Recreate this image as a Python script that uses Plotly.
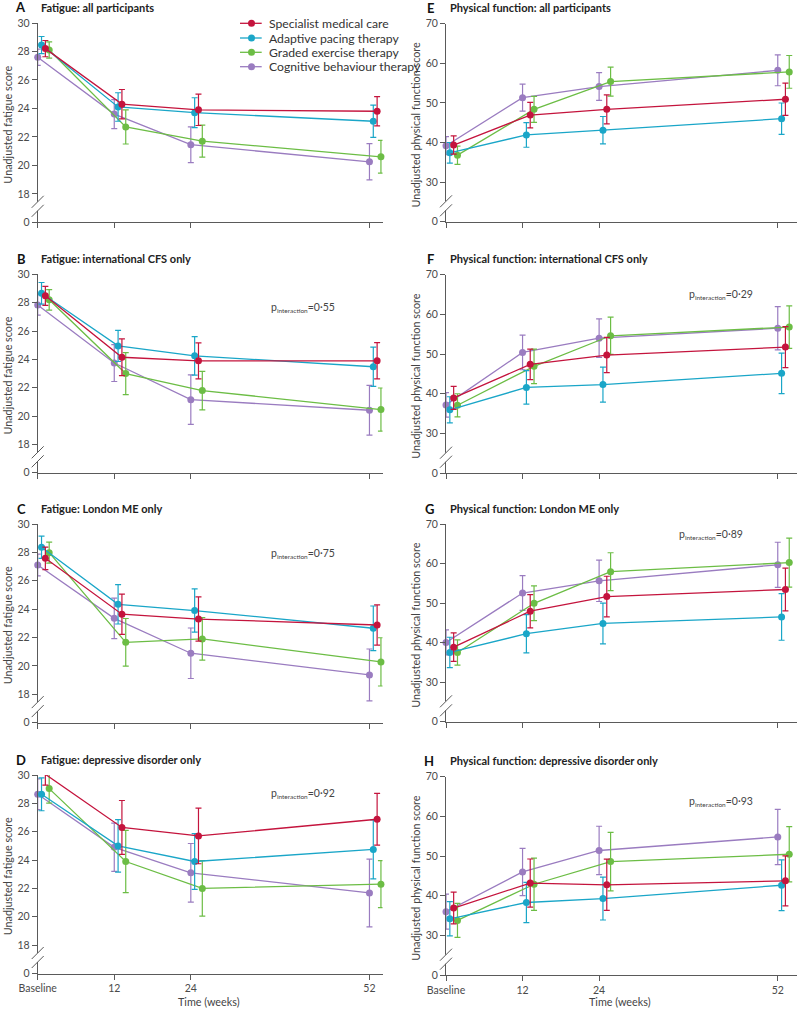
import plotly.graph_objects as go

# ---------------- data ----------------
weeks = [0, 12, 24, 52]
tick_labels = ["Baseline", "12", "24", "52"]
groups = ["Specialist medical care", "Adaptive pacing therapy",
          "Graded exercise therapy", "Cognitive behaviour therapy"]

fatigue_ticks = [0, 18, 20, 22, 24, 26, 28, 30]
physical_ticks = [0, 30, 40, 50, 60, 70]

# order of inner lists: SMC, APT, GET, CBT ; values at Baseline, 12, 24, 52 weeks
A_mean = [[28.2, 24.3, 23.9, 23.8], [28.45, 24.1, 23.7, 23.1], [28.1, 22.7, 21.7, 20.6], [27.6, 23.6, 21.45, 20.25]]
A_err = [[0.57, 1.03, 1.1, 1.03], [0.6, 1.0, 1.05, 1.13], [0.57, 1.2, 1.12, 1.15], [0.57, 1.02, 1.26, 1.27]]

B_mean = [[28.48, 24.15, 23.9, 23.9], [28.66, 24.95, 24.25, 23.48], [28.2, 23.0, 21.8, 20.46], [27.84, 23.74, 21.16, 20.41]]
B_err = [[0.67, 1.3, 1.27, 1.28], [0.76, 1.1, 1.36, 1.38], [0.72, 1.48, 1.36, 1.52], [0.72, 1.3, 1.75, 1.75]]

C_mean = [[27.58, 23.64, 23.3, 22.88], [28.36, 24.34, 23.9, 22.65], [27.98, 21.66, 21.9, 20.28], [27.11, 23.35, 20.89, 19.36]]
C_err = [[0.79, 1.42, 1.56, 1.42], [0.79, 1.39, 1.52, 1.57], [0.74, 1.68, 1.5, 1.7], [0.77, 1.43, 1.78, 1.83]]

D_mean = [[30.05, 26.3, 25.7, 26.88], [28.64, 25.0, 23.9, 24.75], [29.04, 23.9, 22.0, 22.3], [28.64, 24.9, 23.1, 21.68]]
D_err = [[0.77, 1.9, 1.96, 1.82], [1.16, 1.85, 1.96, 2.08], [1.03, 2.19, 1.96, 1.66], [1.08, 1.7, 2.07, 2.39]]

E_mean = [[39.35, 46.9, 48.35, 50.9], [37.4, 41.9, 43.1, 46.0], [36.8, 48.35, 55.35, 57.8], [39.2, 51.3, 54.1, 58.2]]
E_err = [[2.3, 3.2, 3.65, 4.05], [2.6, 3.1, 3.45, 3.95], [2.3, 3.3, 3.65, 4.13], [2.3, 3.4, 3.5, 3.9]]

F_mean = [[38.95, 47.4, 49.75, 51.75], [35.95, 41.6, 42.3, 45.15], [37.1, 46.9, 54.6, 56.8], [37.2, 50.4, 54.0, 56.5]]
F_err = [[2.9, 3.85, 4.45, 5.15], [3.3, 4.2, 4.4, 5.1], [2.9, 4.35, 4.7, 5.35], [3.1, 4.35, 4.85, 5.45]]

G_mean = [[38.9, 48.0, 51.7, 53.5], [37.55, 42.3, 44.9, 46.55], [37.55, 50.0, 58.0, 60.3], [40.1, 52.6, 55.7, 59.75]]
G_err = [[3.6, 4.2, 5.15, 5.4], [3.85, 4.85, 5.15, 5.9], [3.2, 4.4, 4.8, 6.2], [3.15, 4.4, 5.25, 5.7]]

H_mean = [[36.9, 43.2, 42.75, 43.75], [34.2, 38.3, 39.3, 42.65], [33.8, 42.9, 48.6, 50.45], [36.0, 46.0, 51.4, 54.8]]
H_err = [[4.0, 6.05, 6.45, 6.3], [4.3, 5.05, 5.4, 6.4], [4.3, 6.6, 7.35, 6.95], [4.4, 5.95, 6.1, 6.95]]

p_values = {"B": "0·55", "C": "0·75", "D": "0·92", "F": "0·29", "G": "0·89", "H": "0·93"}

# ---------------- styling ----------------
W, H = 798, 1009
FONT = "Lato"
colors = ["#c4143d", "#1aa6c8", "#6cbd45", "#9a7cc0"]
x_offsets = [1.2, 0.6, 1.8, 0.0]          # horizontal dodge (weeks) for SMC, APT, GET, CBT
draw_order = [3, 2, 1, 0]
axis_col = "#5a5a5a"
tick_font = dict(family=FONT, size=10.5, color="#4a4a4a")
PX_PER_WEEK = 6.38


def px_x(p):
    return p / W


def px_y(p):
    return 1 - p / H


# panel layout in pixels: (letter, title, kind, x0, x1, top, bottom, ...)
panels = [
    ("A", "Fatigue: all participants", "fatigue", 37.7, 382.5, 23.0, 222.3, A_mean, A_err, None),
    ("B", "Fatigue: international CFS only", "fatigue", 37.7, 382.5, 274.3, 472.8, B_mean, B_err, (268.5, 308)),
    ("C", "Fatigue: London ME only", "fatigue", 37.7, 382.5, 524.0, 722.6, C_mean, C_err, (269, 553.7)),
    ("D", "Fatigue: depressive disorder only", "fatigue", 37.7, 382.5, 775.0, 973.5, D_mean, D_err, (269, 793.5)),
    ("E", "Physical function: all participants", "physical", 446.0, 796.7, 23.5, 221.8, E_mean, E_err, None),
    ("F", "Physical function: international CFS only", "physical", 446.0, 796.7, 274.6, 473.2, F_mean, F_err, (687, 294)),
    ("G", "Physical function: London ME only", "physical", 446.0, 796.7, 524.3, 721.8, G_mean, G_err, (676.5, 534)),
    ("H", "Physical function: depressive disorder only", "physical", 446.0, 796.7, 776.6, 975.2, H_mean, H_err, (687, 801)),
]

fig = go.Figure()
layout = dict(width=W, height=H, margin=dict(l=0, r=0, t=0, b=0, autoexpand=False),
              paper_bgcolor="white", plot_bgcolor="white", showlegend=False,
              font=dict(family=FONT, color="#333"))
annotations = []
shapes = []

for i, (letter, title, kind, x0, x1, top, bottom, means, errs, ppos) in enumerate(panels):
    n = i + 1
    xa = "x" if n == 1 else f"x{n}"
    ya = "y" if n == 1 else f"y{n}"
    xmax = (x1 - x0) / PX_PER_WEEK
    if kind == "fatigue":
        ticks = fatigue_ticks
        y_low = ticks[1] - 2          # '0' drawn one step below the break
    else:
        ticks = physical_ticks
        y_low = ticks[1] - 10
    yrange = [y_low, ticks[-1]]
    tickvals = [y_low] + ticks[1:]
    ticktext = [str(t) for t in ticks]

    layout[f"xaxis{'' if n == 1 else n}"] = dict(
        domain=[px_x(x0), px_x(x1)], range=[0, xmax], anchor=ya, automargin=False,
        tickvals=weeks, ticktext=tick_labels, showticklabels=letter in ("D", "H"),
        ticks="outside", ticklen=5, tickcolor=axis_col, tickwidth=1,
        showline=True, linecolor=axis_col, linewidth=1, showgrid=False, zeroline=False,
        tickfont=tick_font, fixedrange=True)
    layout[f"yaxis{'' if n == 1 else n}"] = dict(
        domain=[px_y(bottom), px_y(top)], range=yrange, anchor=xa, automargin=False,
        tickvals=tickvals, ticktext=ticktext,
        ticks="outside", ticklen=5, tickcolor=axis_col, tickwidth=1,
        showline=True, linecolor=axis_col, linewidth=1, showgrid=False, zeroline=False,
        tickfont=tick_font, fixedrange=True)

    for g in draw_order:
        fig.add_trace(go.Scatter(
            x=[w + x_offsets[g] for w in weeks], y=means[g],
            mode="lines+markers", xaxis=xa, yaxis=ya, cliponaxis=False,
            line=dict(color=colors[g], width=1.3),
            marker=dict(color=colors[g], size=7),
            error_y=dict(type="data", array=errs[g], visible=True,
                         color=colors[g], thickness=1.2, width=3),
            name=groups[g], hoverinfo="skip"))

    # axis break: white gap + two slashes
    shapes.append(dict(type="rect", xref=f"{xa} domain", yref=ya,
                       xsizemode="pixel", xanchor=0, x0=-2, x1=2,
                       ysizemode="pixel", yanchor=y_low, y0=11.5, y1=20.5,
                       fillcolor="white", line=dict(width=0), layer="above"))
    for cy in (11.5, 20.5):
        shapes.append(dict(type="line", xref=f"{xa} domain", yref=ya,
                           xsizemode="pixel", xanchor=0, x0=-6, x1=6,
                           ysizemode="pixel", yanchor=y_low, y0=cy - 6, y1=cy + 6,
                           line=dict(color=axis_col, width=1), layer="above"))

    # panel letter & title
    ty = (top - 16)
    lx = 27.5 if x0 < 100 else 436.0
    tx = 39.0 if x0 < 100 else 447.5
    annotations.append(dict(text=f"<b>{letter}</b>", x=px_x(lx), y=px_y(ty + 0.5),
                            xref="paper", yref="paper", xanchor="right", yanchor="middle",
                            showarrow=False, font=dict(family=FONT, size=13, color="#111")))
    annotations.append(dict(text=f"<b>{title}</b>", x=px_x(tx), y=px_y(ty),
                            xref="paper", yref="paper", xanchor="left", yanchor="middle",
                            showarrow=False, font=dict(family=FONT, size=11, color="#222")))

    # y axis title
    ytitle = "Unadjusted fatigue score" if kind == "fatigue" else "Unadjusted physical function score"
    ytx = 7.5 if x0 < 100 else 415.3
    annotations.append(dict(text=ytitle, x=px_x(ytx), y=px_y((top + bottom) / 2 + 2.5),
                            xref="paper", yref="paper", xanchor="center", yanchor="middle",
                            textangle=-90, showarrow=False,
                            font=dict(family=FONT, size=10.8, color="#444")))

    # x axis title on bottom panels
    if letter in ("D", "H"):
        annotations.append(dict(text="Time (weeks)", x=px_x((x0 + x1) / 2 - 1), y=px_y(1001.5),
                                xref="paper", yref="paper", xanchor="center", yanchor="middle",
                                showarrow=False, font=dict(family=FONT, size=10.8, color="#444")))

    # p for interaction
    if ppos is not None:
        annotations.append(dict(
            text=f'p<sub><span style="font-size:6.5px">interaction</span></sub>={p_values[letter]}',
            x=px_x(ppos[0]), y=px_y(ppos[1]),
            xref="paper", yref="paper", xanchor="left", yanchor="middle",
            showarrow=False, font=dict(family=FONT, size=10.5, color="#444")))

# legend (panel A)
leg_rows = [23.3, 38.0, 52.3, 66.7]
for g, ry in enumerate(leg_rows):
    shapes.append(dict(type="line", xref="paper", yref="paper",
                       x0=px_x(240), x1=px_x(261.7), y0=px_y(ry), y1=px_y(ry),
                       line=dict(color=colors[g], width=1.3)))
    shapes.append(dict(type="circle", xref="paper", yref="paper",
                       xsizemode="pixel", xanchor=px_x(251.5), x0=-3.5, x1=3.5,
                       ysizemode="pixel", yanchor=px_y(ry), y0=-3.5, y1=3.5,
                       fillcolor=colors[g], line=dict(width=0)))
    annotations.append(dict(text=groups[g], x=px_x(266.5), y=px_y(ry),
                            xref="paper", yref="paper", xanchor="left", yanchor="middle",
                            showarrow=False, font=dict(family=FONT, size=12.2, color="#333")))

layout["annotations"] = annotations
layout["shapes"] = shapes
fig.update_layout(**layout)
fig.write_html("out.html", config={"displayModeBar": False},
               post_script="document.body.style.margin='0px';document.body.style.padding='0px';")
